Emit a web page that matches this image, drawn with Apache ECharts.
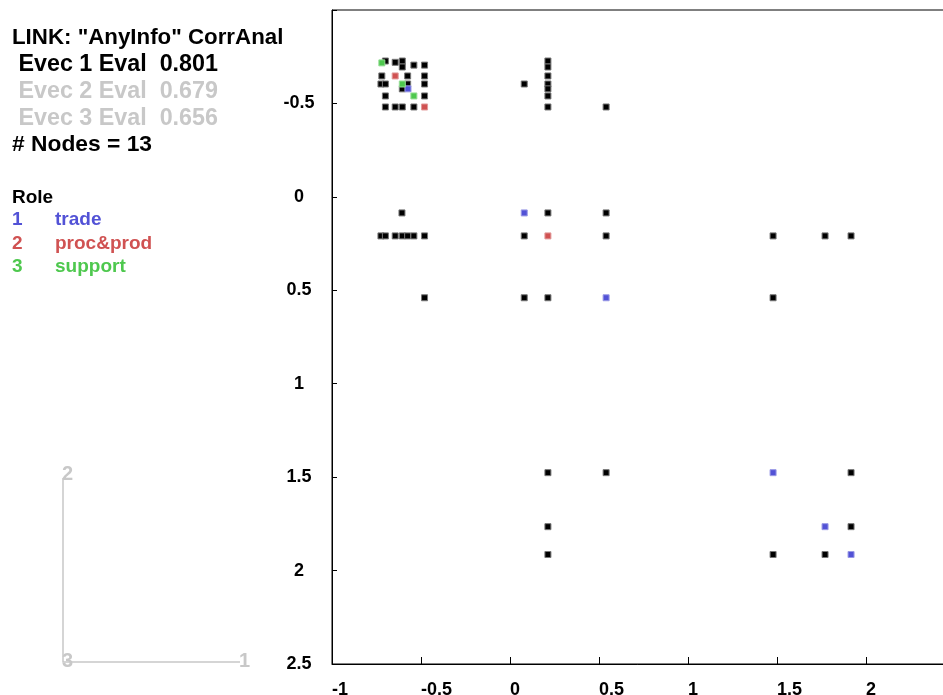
<!DOCTYPE html>
<html><head><meta charset="utf-8">
<script src="https://cdn.jsdelivr.net/npm/echarts@6/dist/echarts.min.js"></script>
<style>html,body{margin:0;padding:0;background:#fff}#c{width:943px;height:695px}</style>
</head><body><div id="c"></div>
<script>
// ---- data ----
const xTicks = [-1, -0.5, 0, 0.5, 1, 1.5, 2, 2.5];
const yTicks = [-1, -0.5, 0, 0.5, 1, 1.5, 2, 2.5];
const headerLines = ['LINK: "AnyInfo" CorrAnal', ' Evec 1 Eval  0.801', ' Evec 2 Eval  0.679', ' Evec 3 Eval  0.656', '# Nodes = 13'];
const roleTitle = 'Role';
const roleIds = ['1', '2', '3'];
const roleNames = ['trade', 'proc&prod', 'support'];
const axisIconLabels = ['1', '2', '3'];

const otherPoints = [
  [-0.70,-0.727],[-0.645,-0.72],[-0.605,-0.727],[-0.605,-0.695],[-0.54,-0.705],[-0.48,-0.705],
  [-0.72,-0.647],[-0.575,-0.647],[-0.48,-0.647],
  [-0.725,-0.604],[-0.70,-0.604],[-0.575,-0.604],[-0.48,-0.604],
  [-0.605,-0.578],
  [-0.70,-0.54],[-0.48,-0.54],
  [-0.70,-0.481],[-0.645,-0.481],[-0.605,-0.481],[-0.54,-0.481],
  [0.08,-0.604],
  [0.213,-0.727],[0.213,-0.695],[0.213,-0.647],[0.213,-0.604],[0.213,-0.578],[0.213,-0.54],[0.213,-0.481],
  [0.54,-0.481],
  [-0.607,0.086],[0.213,0.086],[0.54,0.086],
  [-0.725,0.209],[-0.70,0.209],[-0.645,0.209],[-0.605,0.209],[-0.575,0.209],[-0.54,0.209],[-0.48,0.209],
  [0.08,0.209],[0.54,0.209],[1.478,0.209],[1.77,0.209],[1.916,0.209],
  [-0.48,0.54],[0.08,0.54],[0.213,0.54],[1.478,0.54],
  [0.213,1.476],[0.54,1.476],[1.916,1.476],
  [0.213,1.765],[1.916,1.765],
  [0.213,1.914],[1.478,1.914],[1.77,1.914]
];
const tradePoints = [[-0.573,-0.578],[0.08,0.086],[0.54,0.54],[1.478,1.476],[1.77,1.765],[1.916,1.914]];
const procProdPoints = [[-0.645,-0.647],[-0.48,-0.481],[0.213,0.209]];
const supportPoints = [[-0.72,-0.717],[-0.605,-0.604],[-0.54,-0.54]];

// ---- styles ----
const FONT = '"Liberation Sans", Arial, sans-serif';
const roleColors = ['#5252d6', '#d05252', '#4ec84e'];
const headerColors = ['#000', '#000', '#c8c8c8', '#c8c8c8', '#000'];
const headerSizes = [22.3, 23.3, 23.3, 23.3, 22.8];
const GREY = '#c8c8c8';

const chart = echarts.init(document.getElementById('c'), null, {renderer: 'canvas'});

const graphic = [];
headerLines.forEach((t, i) => {
  graphic.push({type: 'text', style: {text: t, x: 12, y: 38 + i * 26.8, fill: headerColors[i],
    font: 'bold ' + headerSizes[i] + 'px ' + FONT, textVerticalAlign: 'middle'}});
});
graphic.push({type: 'text', style: {text: roleTitle, x: 12, y: 198, fill: '#000', font: 'bold 19px ' + FONT, textVerticalAlign: 'middle'}});
roleIds.forEach((id, i) => {
  graphic.push({type: 'text', style: {text: id, x: 12, y: 220 + i * 23.5, fill: roleColors[i], font: 'bold 19px ' + FONT, textVerticalAlign: 'middle'}});
  graphic.push({type: 'text', style: {text: roleNames[i], x: 55, y: 220 + i * 23.5, fill: roleColors[i], font: 'bold 19px ' + FONT, textVerticalAlign: 'middle'}});
});
// small orientation icon
graphic.push({type: 'polyline', shape: {points: [[63, 478], [63, 662], [240, 662]]}, style: {stroke: GREY, lineWidth: 1.5, fill: null}});
graphic.push({type: 'text', style: {text: axisIconLabels[0], x: 239, y: 661, fill: GREY, font: 'bold 20px ' + FONT, textVerticalAlign: 'middle'}});
graphic.push({type: 'text', style: {text: axisIconLabels[1], x: 62, y: 474, fill: GREY, font: 'bold 20px ' + FONT, textVerticalAlign: 'middle'}});
graphic.push({type: 'text', style: {text: axisIconLabels[2], x: 62, y: 661, fill: GREY, font: 'bold 20px ' + FONT, textVerticalAlign: 'middle'}});

function sc(data, color, border) {
  return {type: 'scatter', data: data, symbol: 'rect', symbolSize: 6,
    itemStyle: {color: color, borderColor: border, borderWidth: 1, opacity: 1},
    emphasis: {disabled: true}, silent: true};
}

chart.setOption({
  animation: false,
  backgroundColor: '#fff',
  grid: {left: 332, top: 10, right: -12, bottom: 31, outerBoundsMode: 'none', containLabel: false,
    show: true, borderColor: '#000', borderWidth: 1, backgroundColor: 'transparent'},
  xAxis: {
    type: 'value', min: xTicks[0], max: xTicks[xTicks.length - 1], interval: 0.5,
    axisLine: {show: true, onZero: false, lineStyle: {color: '#000', width: 1}},
    axisTick: {show: true, inside: true, length: 7, lineStyle: {color: '#000'}},
    splitLine: {show: false},
    axisLabel: {show: true, align: 'left', margin: 17, color: '#000', fontWeight: 'bold', fontSize: 18, fontFamily: FONT,
      formatter: v => (v === 2.5 ? '' : String(v))}
  },
  yAxis: {
    type: 'value', inverse: true, min: yTicks[0], max: yTicks[yTicks.length - 1], interval: 0.5,
    axisLine: {show: true, onZero: false, lineStyle: {color: '#000', width: 1}},
    axisTick: {show: true, inside: true, length: 5, lineStyle: {color: '#000'}},
    splitLine: {show: false},
    axisLabel: {show: true, align: 'center', margin: 33, color: '#000', fontWeight: 'bold', fontSize: 18, fontFamily: FONT,
      formatter: v => (v === -1 ? '' : String(v))}
  },
  graphic: graphic,
  series: [
    sc(otherPoints, '#000', '#777'),
    sc(tradePoints, roleColors[0], '#9a9ae6'),
    sc(procProdPoints, roleColors[1], '#e29a9a'),
    sc(supportPoints, roleColors[2], '#96dd96')
  ]
});
</script></body></html>
